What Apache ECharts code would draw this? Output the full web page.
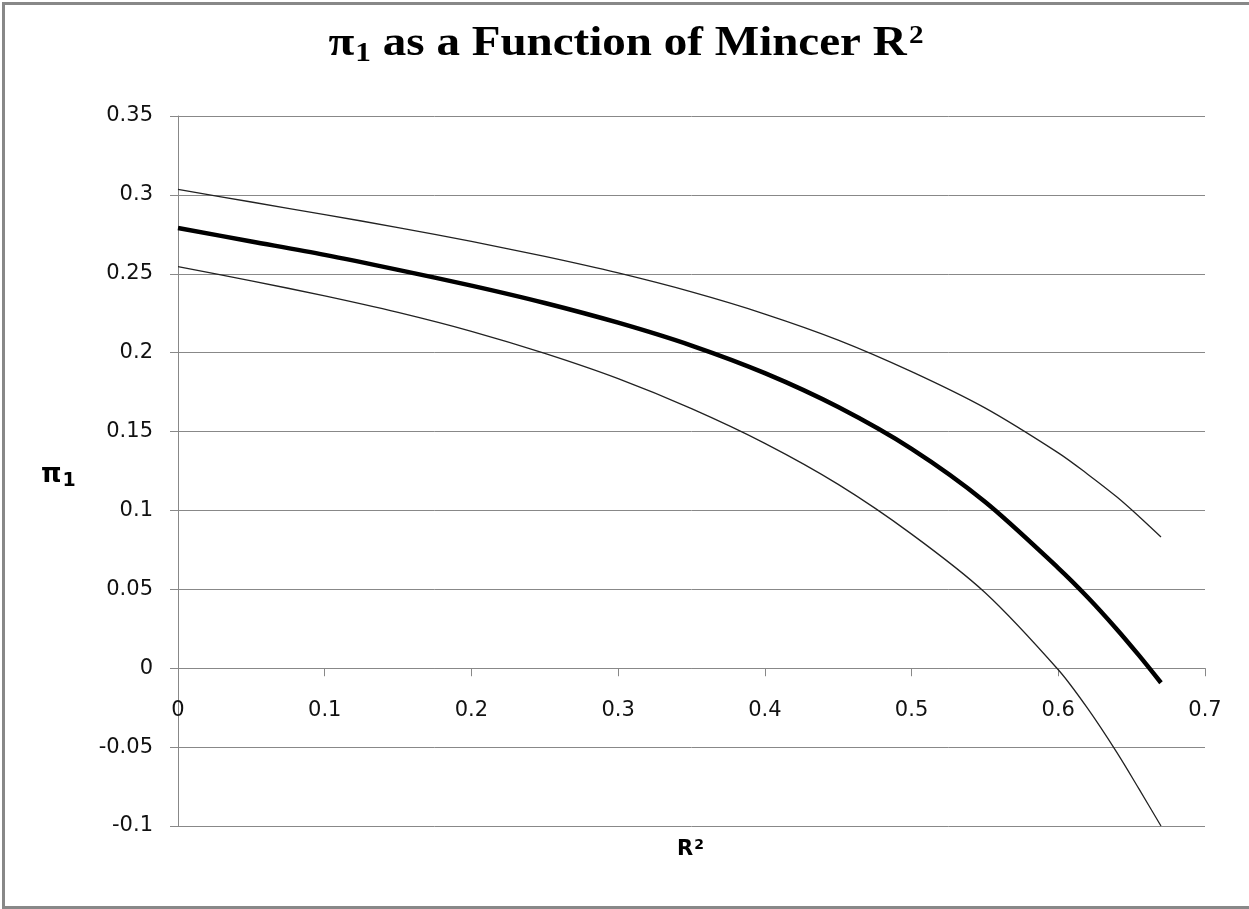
<!DOCTYPE html>
<html>
<head>
<meta charset="utf-8">
<title>π1 as a Function of Mincer R2</title>
<script src="https://cdn.jsdelivr.net/npm/echarts@6/dist/echarts.min.js"></script>
<style>
  html, body { margin: 0; padding: 0; background: #fff; }
  #chart { width: 1249px; height: 909px; }
</style>
</head>
<body>
<div id="chart"></div>
<script>
// R^2 values (x axis)
const r2 = [0, 0.05, 0.1, 0.15, 0.2, 0.25, 0.3, 0.35, 0.4, 0.45, 0.5, 0.55, 0.6, 0.62, 0.64, 0.655, 0.67];
// pi_1 estimate (thick line)
const piMid = [0.279, 0.2705, 0.262, 0.2525, 0.2425, 0.2315, 0.219, 0.2045, 0.187, 0.1655, 0.139, 0.1055, 0.0635, 0.045, 0.0246, 0.0081, -0.0092];
// upper band
const piUpper = [0.3035, 0.2955, 0.2875, 0.2793, 0.2705, 0.261, 0.2505, 0.2385, 0.2245, 0.208, 0.188, 0.165, 0.1365, 0.123, 0.1085, 0.0962, 0.0832];
// lower band
const piLower = [0.2545, 0.2455, 0.236, 0.2255, 0.2135, 0.1995, 0.1835, 0.1645, 0.1425, 0.1165, 0.085, 0.048, -0.001, -0.0255, -0.0535, -0.0765, -0.1];

// axis ranges
const xMin = 0, xMax = 0.7, xStep = 0.1;
const yMin = -0.1, yMax = 0.35, yStep = 0.05;

const toPairs = (ys) => r2.map((x, i) => [x, ys[i]]);
const fmt = (v) => String(+v.toFixed(2));

const gridTop = 116, gridBottom = 83, chartH = 909;
// x axis sits on y = 0, so shift it up from the grid bottom
const plotH = chartH - gridTop - gridBottom;
const xAxisOffset = -plotH * (0 - yMin) / (yMax - yMin);

const chart = echarts.init(document.getElementById('chart'));

const lineSeries = (name, data, width, color) => ({
  name: name,
  type: 'line',
  data: toPairs(data),
  smooth: 0.3,
  symbol: 'none',
  lineStyle: { width: width, color: color },
  z: width > 2 ? 4 : 3
});

const serif = { fontFamily: 'Liberation Serif', fontWeight: 'bold', fill: '#000' };

const option = {
  backgroundColor: '#fff',
  animation: false,
  grid: { left: 178, right: 44, top: gridTop, bottom: gridBottom },
  xAxis: {
    type: 'value',
    min: xMin,
    max: xMax,
    interval: xStep,
    offset: xAxisOffset,
    axisLine: { onZero: false, lineStyle: { color: '#888', width: 1 } },
    axisTick: { show: true, length: 8, lineStyle: { color: '#888' } },
    axisLabel: {
      margin: 32,
      fontFamily: 'DejaVu Sans',
      fontSize: 21,
      color: '#111',
      formatter: fmt
    },
    splitLine: { show: false }
  },
  yAxis: {
    type: 'value',
    min: yMin,
    max: yMax,
    interval: yStep,
    axisLine: { show: true, onZero: false, lineStyle: { color: '#888', width: 1 } },
    axisTick: { show: true, length: 8, lineStyle: { color: '#888' } },
    axisLabel: {
      margin: 25,
      fontFamily: 'DejaVu Sans',
      fontSize: 21,
      color: '#111',
      formatter: fmt
    },
    splitLine: { show: true, lineStyle: { color: '#888', width: 1 } }
  },
  series: [
    lineSeries('Upper', piUpper, 1.3, '#222'),
    lineSeries('Lower', piLower, 1.3, '#222'),
    lineSeries('π1', piMid, 4.5, '#000')
  ],
  graphic: [
    {
      // chart frame
      type: 'rect',
      shape: { x: 3.5, y: 3.5, width: 1262, height: 904 },
      style: { fill: 'none', stroke: '#888', lineWidth: 3 },
      silent: true
    },
    {
      // title
      type: 'text',
      x: 626,
      y: 20,
      scaleX: 1.12,
      style: {
        text: '{a|π}{s|1}{a| as a Function of Mincer R}{p|2}',
        textAlign: 'center',
        textVerticalAlign: 'top',
        rich: {
          a: Object.assign({ fontSize: 42 }, serif),
          s: Object.assign({ fontSize: 28, padding: [20, 0, 0, 1] }, serif),
          p: Object.assign({ fontSize: 26, padding: [0, 0, 16, 2] }, serif)
        }
      }
    },
    {
      // y axis name
      type: 'text',
      left: 41,
      top: 462,
      style: {
        text: '{a|π}{s|1}',
        rich: {
          a: { fontFamily: 'DejaVu Sans', fontWeight: 'bold', fontSize: 26, fill: '#000' },
          s: { fontFamily: 'DejaVu Sans', fontWeight: 'bold', fontSize: 19, fill: '#000', padding: [12, 0, 0, 1] }
        }
      }
    },
    {
      // x axis name
      type: 'text',
      left: 677,
      top: 838,
      style: {
        text: '{a|R}{p|2}',
        rich: {
          a: { fontFamily: 'DejaVu Sans', fontWeight: 'bold', fontSize: 21, fill: '#000' },
          p: { fontFamily: 'DejaVu Sans', fontWeight: 'bold', fontSize: 14, fill: '#000', padding: [0, 0, 10, 1] }
        }
      }
    }
  ]
};

chart.setOption(option);
</script>
</body>
</html>
